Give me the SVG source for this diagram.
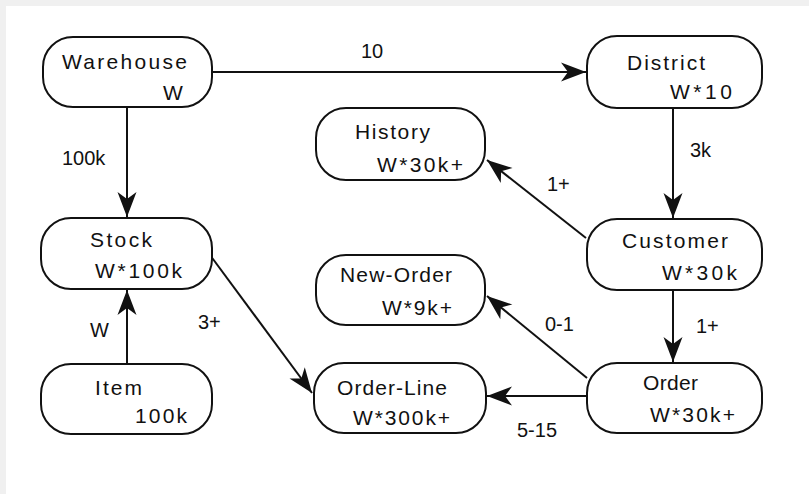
<svg xmlns="http://www.w3.org/2000/svg" width="809" height="494" viewBox="0 0 809 494">
<style>
.node{fill:#fff;stroke:#111;stroke-width:2}
.edge{fill:none;stroke:#111;stroke-width:2}
text{font-family:"Liberation Sans",Arial,sans-serif;font-size:21px;fill:#111}
.lbl{font-size:20px}
</style>
<defs>
<marker id="arr" markerUnits="userSpaceOnUse" markerWidth="28" markerHeight="22" viewBox="-26 -11 28 22" refX="0" refY="0" orient="auto">
<path d="M0,0 L-25,-9.5 L-18,0 L-25,9.5 Z" fill="#111"/>
</marker>
</defs>
<rect x="0" y="0" width="809" height="494" fill="#f0f0f0"/>
<rect x="6" y="6" width="803" height="488" fill="#fff"/>
<g id="connectors">
<line class="edge" x1="212" y1="72" x2="586" y2="72" marker-end="url(#arr)"/>
<line class="edge" x1="127" y1="107" x2="127" y2="217" marker-end="url(#arr)"/>
<line class="edge" x1="673" y1="108" x2="673" y2="218" marker-end="url(#arr)"/>
<line class="edge" x1="586" y1="238" x2="487" y2="160" marker-end="url(#arr)"/>
<line class="edge" x1="210" y1="255" x2="312" y2="393" marker-end="url(#arr)"/>
<line class="edge" x1="127" y1="364" x2="127" y2="290" marker-end="url(#arr)"/>
<line class="edge" x1="673" y1="290" x2="673" y2="362" marker-end="url(#arr)"/>
<line class="edge" x1="587" y1="378" x2="487" y2="296" marker-end="url(#arr)"/>
<line class="edge" x1="587" y1="396" x2="487" y2="396" marker-end="url(#arr)"/>
<text class="lbl" x="361" y="58">10</text>
<text class="lbl" x="62" y="165">100k</text>
<text class="lbl" x="690" y="157">3k</text>
<text class="lbl" x="547" y="191">1+</text>
<text class="lbl" x="90" y="337">W</text>
<text class="lbl" x="198" y="329">3+</text>
<text class="lbl" x="545" y="331">0-1</text>
<text class="lbl" x="696" y="333">1+</text>
<text class="lbl" x="517" y="437">5-15</text>
</g>
<g id="warehouse">
<rect class="node" x="43" y="37" width="169" height="70" rx="30"/>
<text x="62" y="69" textLength="125">Warehouse</text>
<text x="163" y="100" textLength="20">W</text>
</g>
<g id="district">
<rect class="node" x="587" y="36" width="175" height="72" rx="30"/>
<text x="627" y="70" textLength="78">District</text>
<text x="670" y="99" textLength="62">W*10</text>
</g>
<g id="history">
<rect class="node" x="316" y="108" width="169" height="72" rx="30"/>
<text x="355" y="139" textLength="75">History</text>
<text x="377" y="172" textLength="86">W*30k+</text>
</g>
<g id="customer">
<rect class="node" x="587" y="219" width="175" height="71" rx="30"/>
<text x="622" y="248" textLength="106">Customer</text>
<text x="662" y="280" textLength="75">W*30k</text>
</g>
<g id="new-order">
<rect class="node" x="316" y="255" width="169" height="70" rx="30"/>
<text x="340" y="282" textLength="112">New-Order</text>
<text x="382" y="315" textLength="70">W*9k+</text>
</g>
<g id="order">
<rect class="node" x="587" y="363" width="175" height="70" rx="30"/>
<text x="643" y="390" textLength="55">Order</text>
<text x="650" y="422" textLength="85">W*30k+</text>
</g>
<g id="stock">
<rect class="node" x="41" y="218" width="171" height="71" rx="30"/>
<text x="90" y="247" textLength="62">Stock</text>
<text x="95" y="278" textLength="87">W*100k</text>
</g>
<g id="item">
<rect class="node" x="41" y="364" width="171" height="70" rx="30"/>
<text x="95" y="395" textLength="47">Item</text>
<text x="135" y="423" textLength="52">100k</text>
</g>
<g id="order-line">
<rect class="node" x="314" y="363" width="172" height="70" rx="30"/>
<text x="337" y="395" textLength="110">Order-Line</text>
<text x="353" y="425" textLength="97">W*300k+</text>
</g>
</svg>
